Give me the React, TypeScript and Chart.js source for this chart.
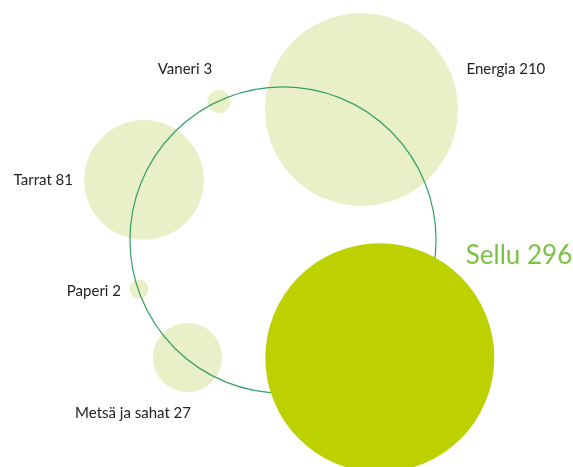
import React, { useEffect, useRef } from "react";
import { Chart, registerables, BubbleController } from "chart.js";

Chart.register(...registerables);

// Bubble controller that does not pad the chart area for bubble overflow
class FreeBubbleController extends (BubbleController as any) {
  getMaxOverflow() {
    return false;
  }
}
(FreeBubbleController as any).id = "freeBubble";
(FreeBubbleController as any).defaults = (BubbleController as any).defaults;
(FreeBubbleController as any).overrides = (BubbleController as any).overrides;
Chart.register(FreeBubbleController as any);

// Data
const categories = ["Sellu", "Energia", "Tarrat", "Metsä ja sahat", "Vaneri", "Paperi"];
const values = [296, 210, 81, 27, 3, 2];
// Layout coordinates of bubble centres (abstract chart units)
const bubbleX = [379.8, 361.5, 144, 187.5, 219, 139];
const bubbleY = [357.8, 109.5, 180, 357.5, 101.5, 289];
// Surrounding ring (total)
const ringX = [283];
const ringY = [240];
const ringValue = [529];

const SIZE_K = 6.655;
const toRadius = (v: number) => SIZE_K * Math.sqrt(v);

// label placement styles relative to bubble (dx, dy in px, alignment)
const labelStyles = [
  { dx: 86, dy: -102, align: "left", size: 26, color: "#7cc242" },
  { dx: 105, dy: -40, align: "left", size: 15, color: "#222222" },
  { dx: -71, dy: 0, align: "right", size: 15, color: "#222222" },
  { dx: 3.5, dy: 55.5, align: "right", size: 15, color: "#222222" },
  { dx: -34, dy: -32.5, align: "center", size: 15, color: "#222222" },
  { dx: -18, dy: 2, align: "right", size: 15, color: "#222222" },
];

export default function App() {
  const ref = useRef<HTMLCanvasElement | null>(null);
  useEffect(() => {
    if (!ref.current) return;
    const pts = categories.map((c, i) => ({ x: bubbleX[i], y: bubbleY[i], r: toRadius(values[i]) }));
    const labelPlugin = {
      id: "bubbleLabels",
      afterDatasetsDraw(chart: any) {
        const ctx = chart.ctx;
        const lightMeta = chart.getDatasetMeta(0);
        const selluMeta = chart.getDatasetMeta(2);
        ctx.save();
        ctx.textBaseline = "middle";
        categories.forEach((c, i) => {
          const el = i === 0 ? selluMeta.data[0] : lightMeta.data[i - 1];
          if (!el) return;
          const s = labelStyles[i];
          ctx.font = `${s.size}px Lato, "Open Sans", sans-serif`;
          ctx.fillStyle = s.color;
          ctx.textAlign = s.align;
          ctx.fillText(`${c} ${values[i]}`, el.x + s.dx, el.y + s.dy);
        });
        ctx.restore();
      },
    };
    const chart = new Chart(ref.current, {
      type: "freeBubble",
      data: {
        datasets: [
          {
            label: "muut",
            data: pts.slice(1),
            backgroundColor: "#e9f0c8",
            borderWidth: 0,
            hoverBorderWidth: 0,
            hoverRadius: 0,
            order: 3,
            clip: false,
          },
          {
            label: "yhteensä",
            data: ringX.map((x, i) => ({ x, y: ringY[i], r: toRadius(ringValue[i]) })),
            backgroundColor: "rgba(0,0,0,0)",
            borderColor: "#35a064",
            borderWidth: 1.2,
            hoverRadius: 0,
            order: 2,
            clip: false,
          },
          {
            label: "Sellu",
            data: pts.slice(0, 1),
            backgroundColor: "#bdd000",
            borderWidth: 0,
            hoverRadius: 0,
            order: 1,
            clip: false,
          },
        ],
      },
      options: {
        animation: false,
        responsive: true,
        maintainAspectRatio: false,
        events: [],
        layout: { padding: 0 },
        plugins: { legend: { display: false }, tooltip: { enabled: false } },
        scales: {
          x: { type: "linear", min: 0, max: 573, display: false },
          y: { type: "linear", min: 0, max: 467, reverse: true, display: false },
        },
      },
      plugins: [labelPlugin],
    } as any);
    return () => chart.destroy();
  }, []);
  return (
    <div style={{ position: "fixed", left: 0, top: 0, width: 573, height: 467, background: "#fff" }}>
      <canvas ref={ref} />
    </div>
  );
}
